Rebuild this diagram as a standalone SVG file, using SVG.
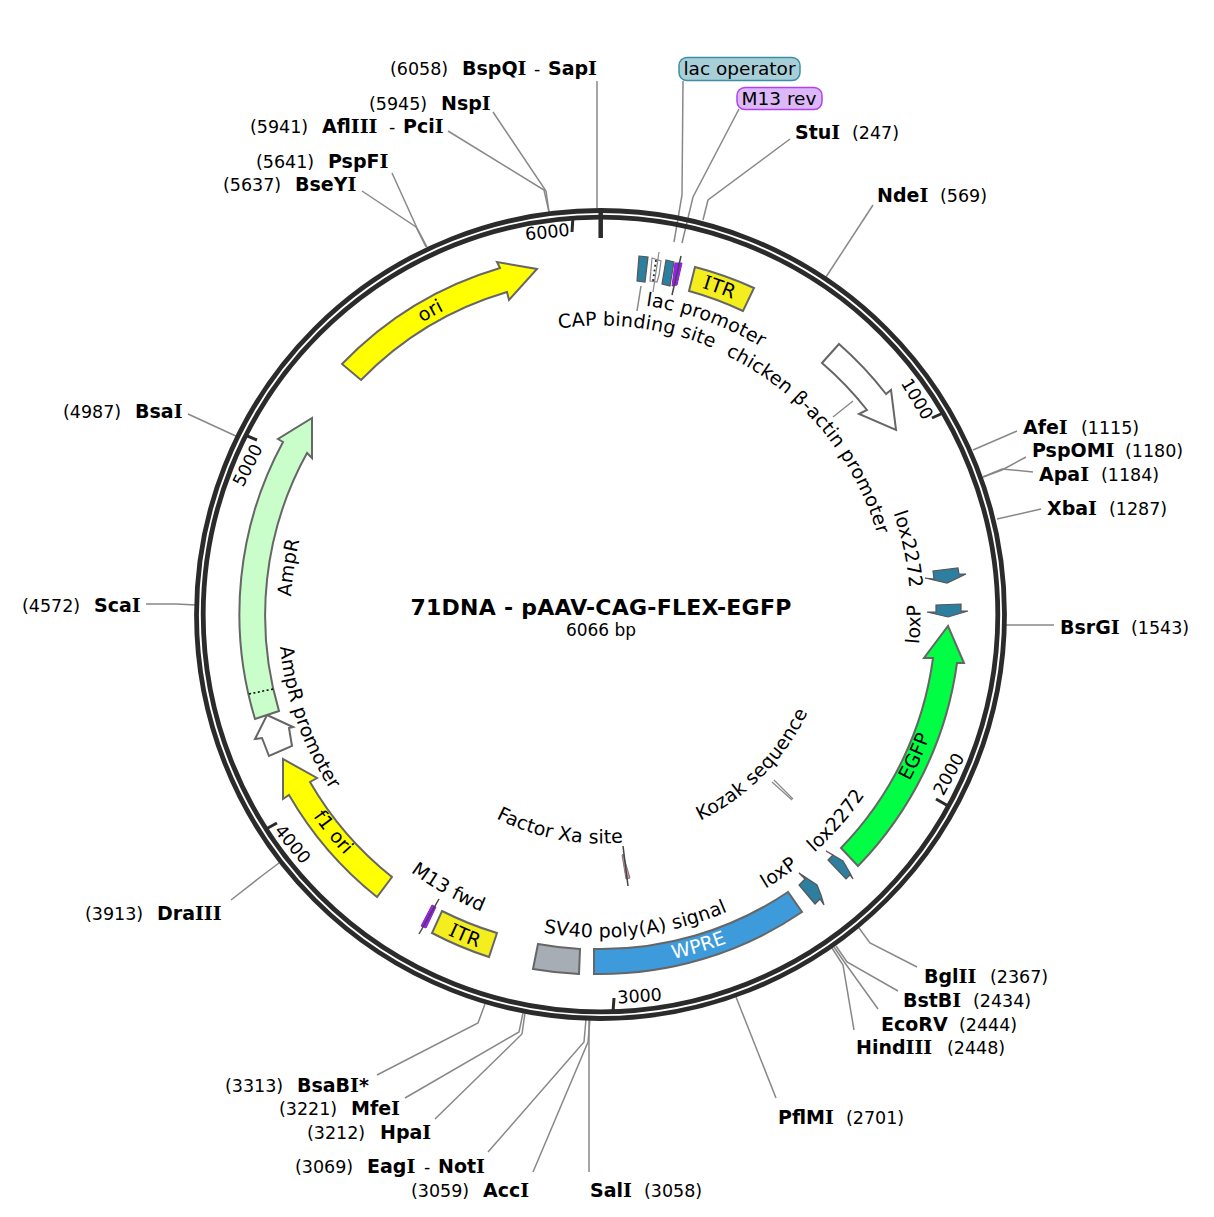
<svg xmlns="http://www.w3.org/2000/svg" width="1214" height="1217" viewBox="0 0 1214 1217">
<style>
text{font-family:"DejaVu Sans","Verdana",sans-serif;font-size:17.5px;fill:#000}
.b{font-weight:bold;font-size:19px}
.l{font-size:19px;letter-spacing:.15px}
.m{text-anchor:middle}
.i{font-family:"DejaVu Serif",serif}
.lead{fill:none;stroke:#888;stroke-width:1.5}
.ring{fill:none;stroke:#2b2b2b;stroke-width:4.8}
.tick{stroke:#2b2b2b;fill:none}
.f{stroke:#666;stroke-width:2;stroke-linejoin:miter}
.teal{fill:#2e7f9f;stroke:#555;stroke-width:1.2}
.spk{stroke:#444;stroke-width:1.5;fill:none}
</style>
<defs>
<path id="c312" pathLength="360" d="M600.5,926.5A312 312 0 1 1 600.5,302.5A312 312 0 1 1 600.5,926.5"/>
<path id="c289" pathLength="360" d="M600.5,903.5A289 289 0 1 1 600.5,325.5A289 289 0 1 1 600.5,903.5"/>
<path id="c288" pathLength="360" d="M600.5,902.5A288 288 0 1 1 600.5,326.5A288 288 0 1 1 600.5,902.5"/>
<path id="c310" pathLength="360" d="M600.5,924.5A310 310 0 1 1 600.5,304.5A310 310 0 1 1 600.5,924.5"/>
<path id="c342" pathLength="360" d="M600.5,956.5A342 342 0 1 1 600.5,272.5A342 342 0 1 1 600.5,956.5"/>
<path id="a322" pathLength="360" d="M600.5,292.5A322 322 0 1 0 600.5,936.5A322 322 0 1 0 600.5,292.5"/>
<path id="a351" pathLength="360" d="M600.5,263.5A351 351 0 1 0 600.5,965.5A351 351 0 1 0 600.5,263.5"/>
<path id="a320" pathLength="360" d="M600.5,294.5A320 320 0 1 0 600.5,934.5A320 320 0 1 0 600.5,294.5"/>
<path id="a355" pathLength="360" d="M600.5,259.5A355 355 0 1 0 600.5,969.5A355 355 0 1 0 600.5,259.5"/>
<path id="a229" pathLength="360" d="M600.5,385.5A229 229 0 1 0 600.5,843.5A229 229 0 1 0 600.5,385.5"/>
<path id="a323" pathLength="360" d="M600.5,291.5A323 323 0 1 0 600.5,937.5A323 323 0 1 0 600.5,291.5"/>
<path id="a352" pathLength="360" d="M600.5,262.5A352 352 0 1 0 600.5,966.5A352 352 0 1 0 600.5,262.5"/>
</defs>
<g id="connectors">
<path class="lead" d="M597,81V208"/>
<path class="lead" d="M683,81L682,195L674,242"/>
<path class="lead" d="M739,109L693,197L682,243"/>
<path class="lead" d="M790,139L708,200L703,220"/>
<path class="lead" d="M873,205L826,277"/>
<path class="lead" d="M493,112L546,191L549,212"/>
<path class="lead" d="M448,131L544,190L549,212"/>
<path class="lead" d="M392,173L417,228L427,247"/>
<path class="lead" d="M362,191L416,227L426,247"/>
<path class="lead" d="M188,414L238,437"/>
<path class="lead" d="M146,604L176,604L196,605"/>
<path class="lead" d="M231,900L263,875L279,863"/>
<path class="lead" d="M1017,431L973,450"/>
<path class="lead" d="M1026,457L1002,470L983,477"/>
<path class="lead" d="M1033,472L1002,469L983,477"/>
<path class="lead" d="M1041,509L997,519"/>
<path class="lead" d="M1054,625L1006,625"/>
<path class="lead" d="M917,967L870,943L859,928"/>
<path class="lead" d="M898,991L847,962L836,946"/>
<path class="lead" d="M878,1009L845,963L834,947"/>
<path class="lead" d="M854,1030L843,965L832,948"/>
<path class="lead" d="M776,1098L736,997"/>
<path class="lead" d="M377,1075L478,1023L485,1004"/>
<path class="lead" d="M405,1098L519,1032L523,1013"/>
<path class="lead" d="M435,1119L522,1034L525,1013"/>
<path class="lead" d="M488,1152L584,1042L586,1019"/>
<path class="lead" d="M533,1172L588,1042L590,1019"/>
<path class="lead" d="M589,1172V1019"/>
<path class="lead" d="M853,401L833,417"/>
<path class="lead" d="M641,286L637,311"/>
<path class="lead" style="stroke-width:1.2" d="M772,782L792,800M774,780L793,799"/>
</g>
<g id="backbone">
<circle class="ring" cx="600.5" cy="614.5" r="404"/>
<circle class="ring" cx="600.5" cy="614.5" r="397.3"/>
<path class="tick" stroke-width="4.5" d="M600.7,212V238"/>
<path class="tick" stroke-width="3" d="M573,216L572,232M932,418L943,413M936,799L950,807M614,998L613,1012M277,823L266,829M257,440L245,435"/>
<text class="m" transform="translate(548,238) rotate(-6)">6000</text>
<text class="m" transform="translate(912,402) rotate(59)">1000</text>
<text class="m" transform="translate(954,777) rotate(-61)">2000</text>
<text class="m" transform="translate(640,1002) rotate(-4)">3000</text>
<text class="m" transform="translate(288,848) rotate(50)">4000</text>
<text class="m" transform="translate(253,468) rotate(-63)">5000</text>
</g>
<g id="title">
<text class="b m" x="601" y="615" style="font-size:22px;letter-spacing:.25px">71DNA - pAAV-CAG-FLEX-EGFP</text>
<text class="m" x="601" y="636" style="font-size:17px">6066 bp</text>
</g>
<g id="ori"><path class="f" fill="#ffff00" d="M342,364A361 361 0 0 1 500,268L497,262L537,269L509,300L507,292A336 336 0 0 0 361,380Z"/><text class="m l"><textPath href="#c342" startOffset="150.7">ori</textPath></text></g>
<g id="itr-top"><path class="f" fill="#f4ee1f" d="M695,267A361 361 0 0 1 754,288L743,311A336 336 0 0 0 689,291Z"/><text class="m l"><textPath href="#c342" startOffset="200"><tspan class="i">I</tspan>TR</textPath></text></g>
<g id="chicken"><path class="f" fill="#fff" d="M839,344A361 361 0 0 1 886,394L891,390L896,430L859,414L867,410A336 336 0 0 0 822,363Z"/><text class="m l"><textPath href="#c288" startOffset="229.8">chicken β-actin promoter</textPath></text></g>
<g id="egfp"><path class="f" fill="#00ff44" d="M858,866A361 361 0 0 0 957,663L964,663L948,626L924,658L933,658A336 336 0 0 1 841,848Z"/><text class="m l"><textPath href="#a351" startOffset="245.7">EGFP</textPath></text></g>
<g id="wpre"><path class="f" fill="#3e9bdb" d="M594,974A360 360 0 0 0 802,912L788,892A335 335 0 0 1 594,949Z"/><text class="m l" style="fill:#fff"><textPath href="#a352" startOffset="196.5">WPRE</textPath></text></g>
<g id="sv40"><path class="f" fill="#a6adb5" d="M538,944A335 335 0 0 0 580,949L579,974A360 360 0 0 1 533,969Z"/><text class="m l"><textPath href="#a323" startOffset="186.5">SV40 poly(A) signal</textPath></text></g>
<g id="itr-bottom"><path class="f" fill="#f4ee1f" d="M442,911A335 335 0 0 0 497,933L489,957A360 360 0 0 1 432,933Z"/><text class="m l"><textPath href="#a355" startOffset="157.1"><tspan class="i">I</tspan>TR</textPath></text></g>
<g id="f1ori"><path class="f" fill="#ffff00" d="M377,897A361 361 0 0 1 289,795L283,799L283,759L317,778L310,782A336 336 0 0 0 392,877Z"/><text class="m l"><textPath href="#a351" startOffset="129.2">f1 ori</textPath></text></g>
<g id="ampr-promoter"><path class="f" fill="#fff" d="M267,715L293,727L289,728L292,746L269,756L262,738L255,739Z"/><text class="m l"><textPath href="#a322" startOffset="109.4">AmpR promoter</textPath></text></g>
<g id="ampr"><path class="f" fill="#c9fdc9" d="M255,719A361 361 0 0 1 283,442L278,439L312,418L312,458L307,453A336 336 0 0 0 279,711Z"/><path fill="none" stroke="#000" stroke-width="1.5" stroke-dasharray="2 2.5" d="M249,694L273,689"/><text class="m l"><textPath href="#c310" startOffset="98.6">AmpR</textPath></text></g>
<g id="cap"><path class="teal" d="M639,256L648,257L645,282L637,281Z"/><text class="m l"><textPath href="#c289" startOffset="187.3">CAP binding site</textPath></text></g>
<g id="lac-promoter"><path fill="#fff" stroke="#888" stroke-width="1.2" d="M652,258L661,261L659,275L657,282L650,281Z"/><path class="lead" style="stroke-width:1.2" d="M659,252L653,292"/><path fill="none" stroke="#222" stroke-width="1.8" stroke-dasharray="1.8 3" d="M656,260L653,281"/><text class="m l"><textPath href="#c312" startOffset="199.7">lac promoter</textPath></text></g>
<g id="lac-operator"><path class="teal" d="M666,260L674,262L670,286L662,284Z"/><rect x="679" y="57.5" width="121" height="23" rx="8" fill="#a8cfd8" stroke="#3a8ea6" stroke-width="1.5"/><text class="m" style="font-size:18.5px" x="739.5" y="75">lac operator</text></g>
<g id="m13-rev"><path fill="#9a1ff0" stroke="#8a20d0" stroke-width="1" d="M675,263L682,263L677,285L672,286Z"/><path class="spk" d="M681,256L672,295"/><rect x="737" y="87.5" width="85" height="22" rx="8" fill="#dcb8f8" stroke="#b040f0" stroke-width="1.5"/><text class="m" style="font-size:18.5px" x="779" y="104.5">M13 rev</text></g>
<g id="lox2272-a"><path class="teal" d="M925,578L934,579L933,571L958,568L959,574L966,574L947,583Z"/><text class="m l"><textPath href="#c310" startOffset="258">lox2272</textPath></text></g>
<g id="loxp-a"><path class="teal" d="M927,612L936,612L936,605L961,604L961,611L968,611L948,617Z"/><text class="m l"><textPath href="#a320" startOffset="268.2">loxP</textPath></text></g>
<g id="lox2272-b"><path class="teal" d="M826,851L843,861L850,873L853,879L850,875L846,879L828,860L833,855Z"/><text class="m l"><textPath href="#a320" startOffset="228.8">lox2272</textPath></text></g>
<g id="loxp-b"><path class="teal" d="M799,873L817,885L821,895L824,905L820,899L815,904L799,885L805,879Z"/><text class="m l"><textPath href="#a320" startOffset="214.6">loxP</textPath></text></g>
<g id="kozak"><text class="m l"><textPath href="#a229" startOffset="225.3">Kozak sequence</textPath></text></g>
<g id="factor-xa"><path fill="#e58fb5" stroke="#777" stroke-width="1" d="M623,854L630,878L626,879L622,855Z"/><path class="spk" d="M623,846L628,886"/><text class="m l"><textPath href="#a229" startOffset="169.3">Factor Xa site</textPath></text></g>
<g id="m13-fwd"><path fill="#9a1ff0" stroke="#8a20d0" stroke-width="1" d="M432,905L436,907L426,928L421,926Z"/><path class="spk" d="M439,899L419,934"/><text class="m l"><textPath href="#a320" startOffset="150.9">M13 fwd</textPath></text></g>
<g id="sites">
<g id="s-sapi"><text x="390" y="75">(6058)</text><text class="b" x="462" y="75">BspQ<tspan class="i">I</tspan></text><text x="534" y="75">-</text><text class="b" x="548" y="75">Sap<tspan class="i">I</tspan></text></g>
<g id="s-nspi"><text x="369" y="110">(5945)</text><text class="b" x="441" y="110">Nsp<tspan class="i">I</tspan></text></g>
<g id="s-pcii"><text x="250" y="133">(5941)</text><text class="b" x="322" y="133">Afl<tspan class="i">III</tspan></text><text x="389" y="133">-</text><text class="b" x="403" y="133">Pci<tspan class="i">I</tspan></text></g>
<g id="s-pspfi"><text x="256" y="168">(5641)</text><text class="b" x="328" y="168">PspF<tspan class="i">I</tspan></text></g>
<g id="s-bseyi"><text x="223" y="191">(5637)</text><text class="b" x="295" y="191">BseY<tspan class="i">I</tspan></text></g>
<g id="s-stui"><text class="b" x="795" y="139">Stu<tspan class="i">I</tspan></text><text x="852" y="139">(247)</text></g>
<g id="s-ndei"><text class="b" x="877" y="202">Nde<tspan class="i">I</tspan></text><text x="940" y="202">(569)</text></g>
<g id="s-afei"><text class="b" x="1023" y="434">Afe<tspan class="i">I</tspan></text><text x="1081" y="434">(1115)</text></g>
<g id="s-pspomi"><text class="b" x="1032" y="457">PspOM<tspan class="i">I</tspan></text><text x="1125" y="457">(1180)</text></g>
<g id="s-apai"><text class="b" x="1039" y="481">Apa<tspan class="i">I</tspan></text><text x="1101" y="481">(1184)</text></g>
<g id="s-xbai"><text class="b" x="1047" y="515">Xba<tspan class="i">I</tspan></text><text x="1109" y="515">(1287)</text></g>
<g id="s-bsrgi"><text class="b" x="1060" y="634">BsrG<tspan class="i">I</tspan></text><text x="1131" y="634">(1543)</text></g>
<g id="s-bglii"><text class="b" x="924" y="983">Bgl<tspan class="i">II</tspan></text><text x="990" y="983">(2367)</text></g>
<g id="s-bstbi"><text class="b" x="903" y="1007">BstB<tspan class="i">I</tspan></text><text x="973" y="1007">(2434)</text></g>
<g id="s-ecorv"><text class="b" x="881" y="1031">EcoRV</text><text x="959" y="1031">(2444)</text></g>
<g id="s-hindiii"><text class="b" x="856" y="1054">Hind<tspan class="i">III</tspan></text><text x="947" y="1054">(2448)</text></g>
<g id="s-pflmi"><text class="b" x="778" y="1124">PflM<tspan class="i">I</tspan></text><text x="846" y="1124">(2701)</text></g>
<g id="s-sali"><text class="b" x="590" y="1197">Sal<tspan class="i">I</tspan></text><text x="644" y="1197">(3058)</text></g>
<g id="s-acci"><text x="411" y="1197">(3059)</text><text class="b" x="483" y="1197">Acc<tspan class="i">I</tspan></text></g>
<g id="s-noti"><text x="295" y="1173">(3069)</text><text class="b" x="367" y="1173">Eag<tspan class="i">I</tspan></text><text x="424" y="1173">-</text><text class="b" x="438" y="1173">Not<tspan class="i">I</tspan></text></g>
<g id="s-hpai"><text x="307" y="1139">(3212)</text><text class="b" x="380" y="1139">Hpa<tspan class="i">I</tspan></text></g>
<g id="s-mfei"><text x="279" y="1115">(3221)</text><text class="b" x="351" y="1115">Mfe<tspan class="i">I</tspan></text></g>
<g id="s-bsabi"><text x="225" y="1092">(3313)</text><text class="b" x="297" y="1092">BsaB<tspan class="i">I</tspan>*</text></g>
<g id="s-draiii"><text x="85" y="920">(3913)</text><text class="b" x="157" y="920">Dra<tspan class="i">III</tspan></text></g>
<g id="s-scai"><text x="22" y="612">(4572)</text><text class="b" x="94" y="612">Sca<tspan class="i">I</tspan></text></g>
<g id="s-bsai"><text x="63" y="418">(4987)</text><text class="b" x="135" y="418">Bsa<tspan class="i">I</tspan></text></g>
</g>
</svg>
